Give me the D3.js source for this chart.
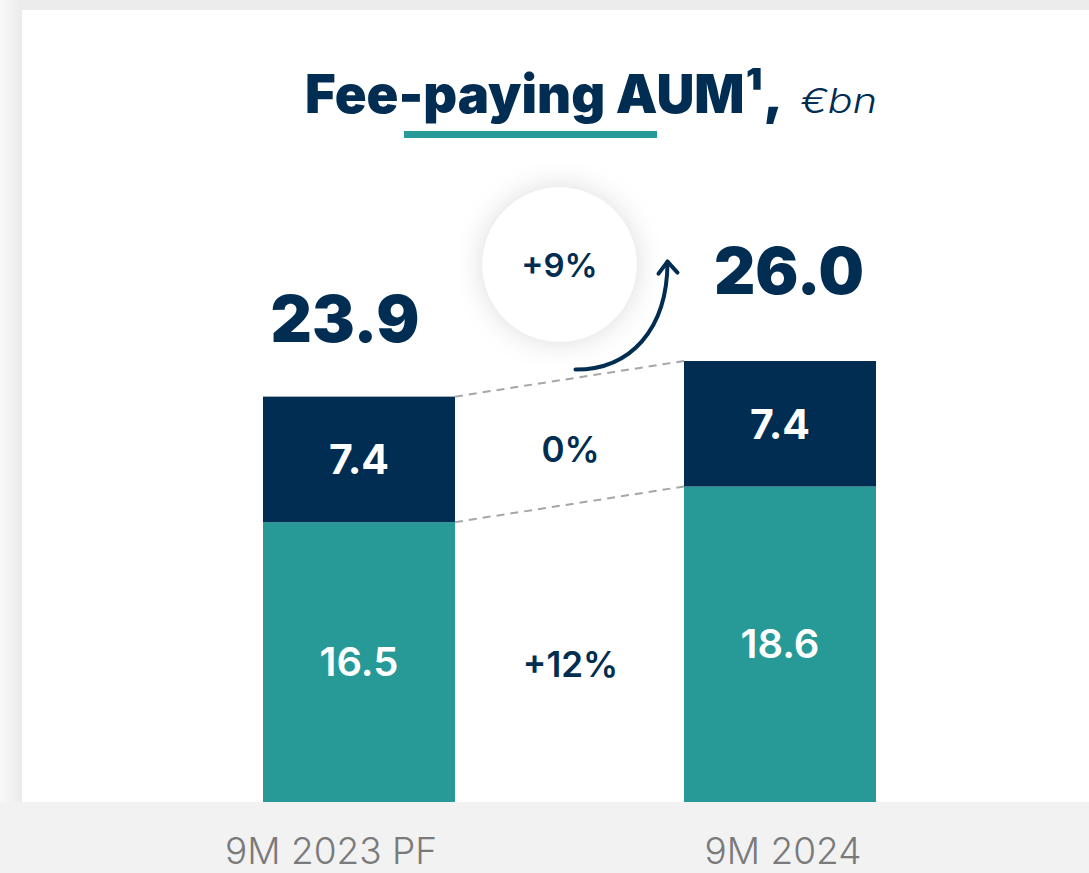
<!DOCTYPE html>
<html>
<head>
<meta charset="utf-8">
<script src="https://cdn.jsdelivr.net/npm/d3@7"></script>
<style>
  html, body { margin: 0; padding: 0; background: #f2f2f2; }
  svg { display: block; font-family: Inter, "Open Sans", sans-serif; }
</style>
</head>
<body>
<div id="chart"></div>
<script>
// values
var categories = ['9M 2023 PF', '9M 2024'];
var baseValues = [16.5, 18.6];   // teal segment
var topValues = [7.4, 7.4];      // navy segment
var totals = [23.9, 26.0];
var segmentChanges = ['+12%', '0%'];  // bottom, top
var totalChange = '+9%';

var navy = '#002d51';
var teal = '#279a98';
var width = 1089, height = 873;

var svg = d3.select('#chart').append('svg')
    .attr('width', width)
    .attr('height', height);

var defs = svg.append('defs');
var grad = defs.append('linearGradient').attr('id', 'leftShade');
grad.append('stop').attr('offset', '0%').attr('stop-color', '#f8f8f8');
grad.append('stop').attr('offset', '100%').attr('stop-color', '#ebebeb');

var shadow = defs.append('filter').attr('id', 'soft')
    .attr('x', '-60%').attr('y', '-60%').attr('width', '220%').attr('height', '220%');
shadow.append('feDropShadow')
    .attr('dx', 0).attr('dy', 0)
    .attr('stdDeviation', 14)
    .attr('flood-color', '#000')
    .attr('flood-opacity', 0.14);

// backdrop + white card
var cardBottom = 802;
svg.append('rect').attr('x', 0).attr('y', 0).attr('width', width).attr('height', height).attr('fill', '#f2f2f2');
svg.append('rect').attr('x', 0).attr('y', 0).attr('width', width).attr('height', 10).attr('fill', '#ececec');
svg.append('rect').attr('x', 0).attr('y', 0).attr('width', 22).attr('height', cardBottom).attr('fill', 'url(#leftShade)');
svg.append('rect').attr('x', 22).attr('y', 10).attr('width', width - 22).attr('height', cardBottom - 10).attr('fill', '#fff');

// scales
var x = d3.scalePoint().domain(categories).range([359, 780]);
var y = d3.scaleLinear().domain([0, 26]).range([cardBottom, 361]);
var barW = 192;

var rows = categories.map(function (c, i) {
    return {cat: c, base: baseValues[i], top: topValues[i], total: totals[i]};
});

// title
svg.append('text')
    .attr('x', 305).attr('y', 113)
    .attr('textLength', 478).attr('lengthAdjust', 'spacingAndGlyphs')
    .attr('font-size', 53).attr('font-weight', 900).attr('fill', navy)
    .text('Fee-paying AUM¹,');
svg.append('text')
    .attr('x', 800).attr('y', 113)
    .attr('textLength', 77).attr('lengthAdjust', 'spacingAndGlyphs')
    .attr('font-size', 34).attr('font-weight', 300).attr('font-style', 'italic').attr('fill', navy)
    .text('€bn');
svg.append('rect')
    .attr('x', 404).attr('y', 131).attr('width', 253).attr('height', 7)
    .attr('fill', teal);

// bars
var g = svg.append('g');
g.selectAll('rect.base')
    .data(rows)
    .enter()
    .append('rect')
    .attr('class', 'base')
    .attr('x', function (d) { return x(d.cat) - barW / 2; })
    .attr('y', function (d) { return y(d.base); })
    .attr('width', barW)
    .attr('height', function (d) { return y(0) - y(d.base); })
    .attr('fill', teal);

g.selectAll('rect.top')
    .data(rows)
    .enter()
    .append('rect')
    .attr('class', 'top')
    .attr('x', function (d) { return x(d.cat) - barW / 2; })
    .attr('y', function (d) { return y(d.base + d.top); })
    .attr('width', barW)
    .attr('height', function (d) { return y(d.base) - y(d.base + d.top); })
    .attr('fill', navy);

// dashed connectors between bars
var a = rows[0], b = rows[1];
[function (d) { return d.base + d.top; }, function (d) { return d.base; }].forEach(function (acc) {
    svg.append('line')
        .attr('x1', x(a.cat) + barW / 2).attr('y1', y(acc(a)))
        .attr('x2', x(b.cat) - barW / 2).attr('y2', y(acc(b)))
        .attr('stroke', '#a6a6a6')
        .attr('stroke-width', 2)
        .attr('stroke-dasharray', '8,6');
});

// segment labels
g.selectAll('text.baseLbl')
    .data(rows)
    .enter()
    .append('text')
    .attr('x', function (d) { return x(d.cat); })
    .attr('y', function (d) { return (y(0) + y(d.base)) / 2 + 14; })
    .attr('text-anchor', 'middle')
    .attr('font-size', 40).attr('font-weight', 600).attr('fill', '#fff')
    .text(function (d) { return d.base.toFixed(1); });

g.selectAll('text.topLbl')
    .data(rows)
    .enter()
    .append('text')
    .attr('x', function (d) { return x(d.cat); })
    .attr('y', function (d) { return (y(d.base) + y(d.base + d.top)) / 2 + 15; })
    .attr('text-anchor', 'middle')
    .attr('font-size', 41).attr('font-weight', 700).attr('fill', '#fff')
    .text(function (d) { return d.top.toFixed(1); });

// totals
var totalShift = [-14, 9], totalLift = [55, 67];
g.selectAll('text.total')
    .data(rows)
    .enter()
    .append('text')
    .attr('x', function (d, i) { return x(d.cat) + totalShift[i]; })
    .attr('y', function (d, i) { return y(d.total) - totalLift[i]; })
    .attr('text-anchor', 'middle')
    .attr('font-size', 64).attr('font-weight', 900).attr('fill', navy)
    .text(function (d) { return d.total.toFixed(1); });

// change labels between bars
var midX = (x(a.cat) + x(b.cat)) / 2;
var midBase = ((y(0) + y(a.base)) / 2 + (y(0) + y(b.base)) / 2) / 2;
var midTop = ((y(a.base) + y(a.base + a.top)) / 2 + (y(b.base) + y(b.base + b.top)) / 2) / 2;
svg.append('text')
    .attr('x', midX + 1).attr('y', midBase + 24)
    .attr('text-anchor', 'middle')
    .attr('font-size', 35).attr('font-weight', 600).attr('fill', navy)
    .text(segmentChanges[0]);
svg.append('text')
    .attr('x', midX + 1).attr('y', midTop + 20)
    .attr('text-anchor', 'middle')
    .attr('font-size', 35).attr('font-weight', 600).attr('fill', navy)
    .text(segmentChanges[1]);

// growth bubble
var cx = midX - 10, cy = y(a.total) - 132, r = 77;
svg.append('circle')
    .attr('cx', cx).attr('cy', cy).attr('r', r)
    .attr('fill', '#fff')
    .attr('filter', 'url(#soft)');
svg.append('text')
    .attr('x', cx).attr('y', cy + 12)
    .attr('text-anchor', 'middle')
    .attr('font-size', 33).attr('font-weight', 600).attr('fill', navy)
    .text(totalChange);

// curved arrow
var sx = cx + 16, sy = cy + 105, ex = cx + 108, ey = cy - 3;
svg.append('path')
    .attr('d', 'M' + sx + ',' + sy + ' C' + (sx + 55) + ',' + sy + ' ' + ex + ',' + (sy - 40) + ' ' + ex + ',' + ey)
    .attr('fill', 'none')
    .attr('stroke', navy).attr('stroke-width', 4).attr('stroke-linecap', 'round');
svg.append('path')
    .attr('d', 'M' + (ex - 9) + ',' + (ey + 12) + ' L' + ex + ',' + ey + ' L' + (ex + 10) + ',' + (ey + 11))
    .attr('fill', 'none')
    .attr('stroke', navy).attr('stroke-width', 4)
    .attr('stroke-linecap', 'round').attr('stroke-linejoin', 'round');

// category labels (kept just inside the bottom edge)
var catShift = [-28, 3];
svg.selectAll('text.cat')
    .data(categories)
    .enter()
    .append('text')
    .attr('x', function (d, i) { return x(d) + catShift[i]; })
    .attr('y', 864)
    .attr('text-anchor', 'middle')
    .attr('font-size', 37).attr('font-weight', 300).attr('fill', '#7a7a7a')
    .text(function (d) { return d; });
</script>
</body>
</html>
